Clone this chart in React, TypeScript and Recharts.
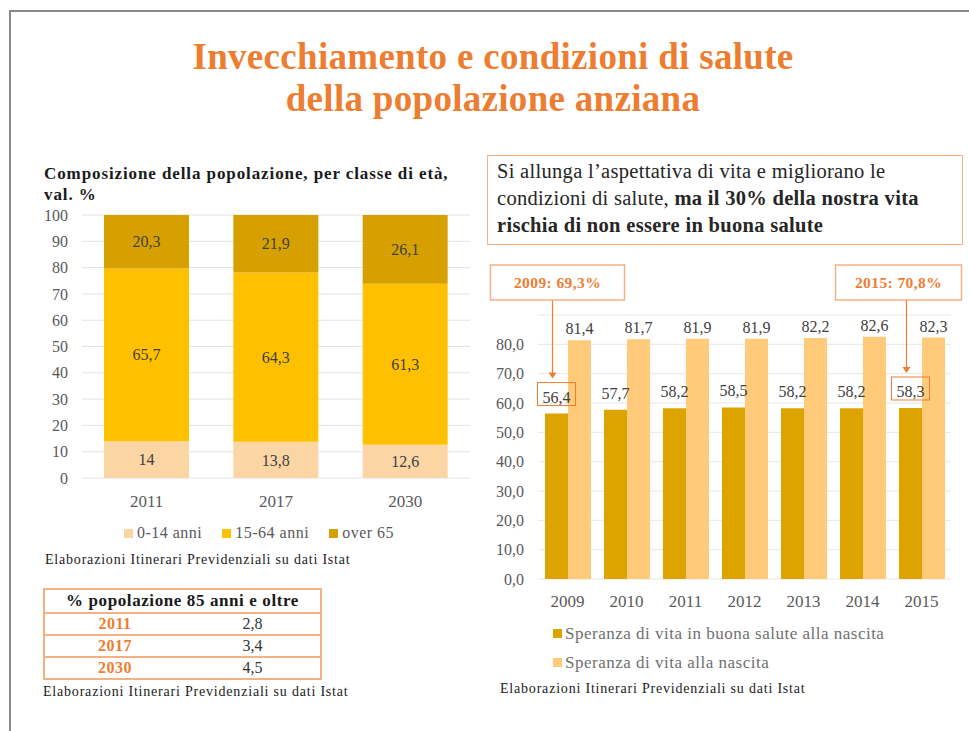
import React from "react";
import { BarChart, Bar, XAxis, YAxis, CartesianGrid, Legend, LabelList } from "recharts";

// left chart: population by age class, %
const ageYears = ["2011", "2017", "2030"];
const age0to14 = [14, 13.8, 12.6];
const age15to64 = [65.7, 64.3, 61.3];
const age65plus = [20.3, 21.9, 26.1];
const ageTicks = [0, 10, 20, 30, 40, 50, 60, 70, 80, 90, 100];

// table: share of population 85+
const oldYears = ["2011", "2017", "2030"];
const oldShare = [2.8, 3.4, 4.5];

// right chart: life expectancy
const lifeYears = ["2009", "2010", "2011", "2012", "2013", "2014", "2015"];
const healthyLife = [56.4, 57.7, 58.2, 58.5, 58.2, 58.2, 58.3];
const totalLife = [81.4, 81.7, 81.9, 81.9, 82.2, 82.6, 82.3];
const lifeTicks = [0, 10, 20, 30, 40, 50, 60, 70, 80];
const calloutIndex = [0, 6];
const calloutText = ["2009: 69,3%", "2015: 70,8%"];

const SERIF = "'Liberation Serif', 'DejaVu Serif', serif";
const ORANGE = "#ED7D31";
const BOX_BORDER = "#F4B183";
const C_YOUNG = "#FBD5A3";
const C_ADULT = "#FFC000";
const C_OLD = "#D6A000";
const C_HEALTHY = "#DDA400";
const C_TOTAL = "#FFCA7A";

const comma = (v: number, d?: number) => (d === undefined ? String(v) : v.toFixed(d)).replace(".", ",");

const ageData = ageYears.map((year, i) => ({
  year,
  young: age0to14[i],
  adult: age15to64[i],
  old: age65plus[i],
}));

const lifeData = lifeYears.map((year, i) => ({
  year,
  healthy: healthyLife[i],
  total: totalLife[i],
}));

const source = "Elaborazioni Itinerari Previdenziali su dati Istat";
const sourceStyle = { fontSize: 14, letterSpacing: 0.8, color: "#222" };

function HealthyLabel(props: any) {
  const { x, y, width, value, index } = props;
  const cx = x + width / 2;
  const k = calloutIndex.indexOf(index);
  const txt = comma(value, 1);
  const boxLeft = cx - 4 - (k === 0 ? 62 : 71);
  const boxW = k === 0 ? 134 : 126;
  return (
    <g>
      <text x={cx} y={y - 11} textAnchor="middle" fontFamily={SERIF} fontSize={16} fill="#404040">
        {txt}
      </text>
      {k >= 0 && (
        <g>
          <rect x={cx - 19} y={y - 31} width={38} height={23} fill="none" stroke={ORANGE} strokeWidth={1} />
          <line x1={cx - 4} y1={45} x2={cx - 4} y2={y - 40} stroke={ORANGE} strokeWidth={1.2} />
          <path d={`M${cx - 8},${y - 41} L${cx},${y - 41} L${cx - 4},${y - 35} Z`} fill={ORANGE} />
          <rect x={boxLeft} y={10} width={boxW} height={35} fill="#fff" stroke={BOX_BORDER} strokeWidth={1.5} />
          <text x={boxLeft + boxW / 2} y={33} textAnchor="middle" fontFamily={SERIF} fontSize={15.5}
            fontWeight="bold" fill={ORANGE} letterSpacing={0.4}>
            {calloutText[k]}
          </text>
        </g>
      )}
    </g>
  );
}

function AgeLegend() {
  const items = [
    { c: C_YOUNG, t: "0-14 anni" },
    { c: C_ADULT, t: "15-64 anni" },
    { c: C_OLD, t: "over 65" },
  ];
  return (
    <div style={{ display: "flex", justifyContent: "center", gap: 20, paddingTop: 16, paddingLeft: 18,
      fontFamily: SERIF, fontSize: 16, letterSpacing: 0.5, color: "#595959" }}>
      {items.map((it) => (
        <span key={it.t} style={{ display: "flex", alignItems: "center" }}>
          <span style={{ width: 9, height: 9, background: it.c, marginRight: 4, display: "inline-block" }} />
          {it.t}
        </span>
      ))}
    </div>
  );
}

function LifeLegend() {
  const items = [
    { c: C_HEALTHY, t: "Speranza di vita in buona salute alla nascita" },
    { c: C_TOTAL, t: "Speranza di vita alla nascita" },
  ];
  return (
    <div style={{ fontFamily: SERIF, fontSize: 17, letterSpacing: 0.5, color: "#6f6f6f", paddingLeft: 75, paddingTop: 10 }}>
      {items.map((it) => (
        <div key={it.t} style={{ display: "flex", alignItems: "center", height: 29 }}>
          <span style={{ width: 9, height: 9, background: it.c, marginRight: 3, display: "inline-block" }} />
          {it.t}
        </div>
      ))}
    </div>
  );
}

export default function App() {
  return (
    <div style={{ position: "absolute", left: 0, top: 0, width: 969, height: 731, background: "#fff", fontFamily: SERIF, overflow: "hidden" }}>
      {/* slide frame */}
      <div style={{ position: "absolute", left: 9, top: 10, width: 980, height: 740, borderTop: "2px solid #888", borderLeft: "2px solid #888" }} />

      <div style={{ position: "absolute", left: 0, top: 36, width: 986, textAlign: "center", color: ORANGE, fontWeight: "bold",
        fontSize: 37, letterSpacing: 0.3, lineHeight: "42px" }}>
        Invecchiamento e condizioni di salute
        <br />
        della popolazione anziana
      </div>

      <div style={{ position: "absolute", left: 44, top: 163, width: 440, fontWeight: "bold", fontSize: 17, letterSpacing: 0.9,
        lineHeight: "21px", color: "#1a1a1a" }}>
        Composizione della popolazione, per classe di età,
        <br />
        val. %
      </div>

      <div style={{ position: "absolute", left: 30, top: 205 }}>
        <BarChart width={440} height={335} data={ageData} margin={{ top: 10, right: 0, bottom: 0, left: 0 }} barSize={85}>
          <CartesianGrid vertical={false} stroke="#E3E3E3" />
          <XAxis dataKey="year" axisLine={false} tickLine={false} height={30} tickMargin={11}
            tick={{ fill: "#595959", fontFamily: SERIF, fontSize: 17 }} />
          <YAxis domain={[0, 100]} ticks={ageTicks} width={52} axisLine={false} tickLine={false} tickMargin={8} interval={0}
            tick={{ fill: "#595959", fontFamily: SERIF, fontSize: 16 }} />
          <Legend verticalAlign="bottom" height={32} content={<AgeLegend />} />
          <Bar dataKey="young" stackId="a" fill={C_YOUNG} isAnimationActive={false}>
            <LabelList dataKey="young" position="center" formatter={(v: any) => comma(v)} fill="#404040" fontFamily={SERIF} fontSize={16} />
          </Bar>
          <Bar dataKey="adult" stackId="a" fill={C_ADULT} isAnimationActive={false}>
            <LabelList dataKey="adult" position="center" formatter={(v: any) => comma(v)} fill="#404040" fontFamily={SERIF} fontSize={16} />
          </Bar>
          <Bar dataKey="old" stackId="a" fill={C_OLD} isAnimationActive={false}>
            <LabelList dataKey="old" position="center" formatter={(v: any) => comma(v)} fill="#404040" fontFamily={SERIF} fontSize={16} />
          </Bar>
        </BarChart>
      </div>

      <div style={{ position: "absolute", left: 45, top: 552, ...sourceStyle }}>{source}</div>

      <table style={{ position: "absolute", left: 43, top: 588, width: 279, borderCollapse: "collapse", border: `2px solid ${BOX_BORDER}`, fontFamily: SERIF }}>
        <tbody>
          <tr style={{ height: 24 }}>
            <td colSpan={2} style={{ textAlign: "center", fontWeight: "bold", fontSize: 17, letterSpacing: 0.6, color: "#1a1a1a",
              borderBottom: `2px solid ${BOX_BORDER}`, padding: 0 }}>
              % popolazione 85 anni e oltre
            </td>
          </tr>
          {oldYears.map((y, i) => (
            <tr key={y} style={{ height: 22 }}>
              <td style={{ width: 140, textAlign: "center", fontWeight: "bold", color: ORANGE, fontSize: 16, letterSpacing: 0.5, padding: 0,
                borderBottom: i < 2 ? `2px solid ${BOX_BORDER}` : undefined }}>{y}</td>
              <td style={{ textAlign: "center", fontSize: 16, color: "#333", padding: 0,
                borderBottom: i < 2 ? `2px solid ${BOX_BORDER}` : undefined }}>{comma(oldShare[i], 1)}</td>
            </tr>
          ))}
        </tbody>
      </table>

      <div style={{ position: "absolute", left: 43, top: 684, ...sourceStyle }}>{source}</div>

      <div style={{ position: "absolute", left: 487, top: 155, width: 465, height: 86, border: `1.5px solid ${BOX_BORDER}`,
        padding: "2px 0 0 9px", fontSize: 20.5, letterSpacing: 0.3, lineHeight: "27px", color: "#262626" }}>
        Si allunga l’aspettativa di vita e migliorano le
        <br />
        condizioni di salute, <b>ma il 30% della nostra vita</b>
        <br />
        <b>rischia di non essere in buona salute</b>
      </div>

      <div style={{ position: "absolute", left: 478, top: 255 }}>
        <BarChart width={490} height={416} data={lifeData} margin={{ top: 60, right: 17, bottom: 0, left: 0 }} barSize={23} barGap={0}
          style={{ overflow: "visible" }}>
          <CartesianGrid vertical={false} stroke="#E6E6E6" />
          <XAxis dataKey="year" axisLine={false} tickLine={false} height={30} tickMargin={10}
            tick={{ fill: "#595959", fontFamily: SERIF, fontSize: 17 }} />
          <YAxis domain={[0, 90]} ticks={lifeTicks} width={60} axisLine={false} tickLine={false} tickMargin={8} interval={0}
            tickFormatter={(v: number) => comma(v, 1)}
            tick={{ fill: "#595959", fontFamily: SERIF, fontSize: 16 }} />
          <Legend verticalAlign="bottom" height={62} content={<LifeLegend />} />
          <Bar dataKey="healthy" fill={C_HEALTHY} isAnimationActive={false}>
            <LabelList dataKey="healthy" content={<HealthyLabel />} />
          </Bar>
          <Bar dataKey="total" fill={C_TOTAL} isAnimationActive={false}>
            <LabelList dataKey="total" position="top" offset={6} formatter={(v: any) => comma(v, 1)} fill="#404040" fontFamily={SERIF} fontSize={16} />
          </Bar>
        </BarChart>
      </div>

      <div style={{ position: "absolute", left: 500, top: 681, ...sourceStyle }}>{source}</div>
    </div>
  );
}
